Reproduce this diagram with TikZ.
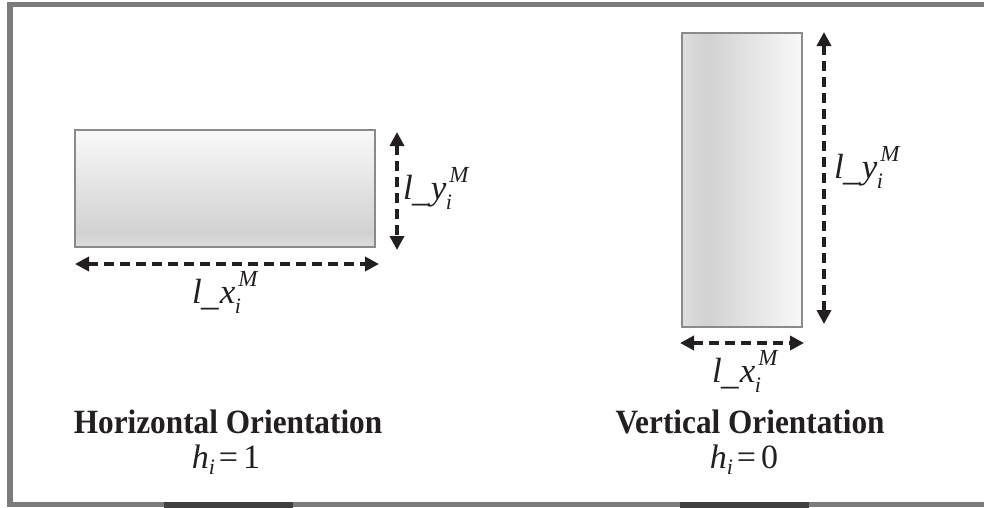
\documentclass[tikz,border=0pt]{standalone}
\usepackage{fontspec}
\setmainfont{Liberation Serif}
\usetikzlibrary{arrows.meta}
\definecolor{shA}{gray}{0.87}
\definecolor{shB}{gray}{0.82}
\definecolor{shC}{gray}{0.975}
\definecolor{framegray}{HTML}{7C7C7C}
\definecolor{bardark}{HTML}{404040}
\definecolor{boxline}{HTML}{8A8A8A}
\definecolor{inkc}{HTML}{231F20}
\pgfdeclareverticalshading{hboxshade}{100bp}{color(0bp)=(shA); color(25bp)=(shA); color(31bp)=(shB); color(75bp)=(shC); color(100bp)=(shC)}
\pgfdeclarehorizontalshading{vboxshade}{100bp}{color(0bp)=(shA); color(25bp)=(shA); color(35bp)=(shB); color(75bp)=(shC); color(100bp)=(shC)}
\newcommand{\dimlbl}[1]{\fontsize{35}{35}\selectfont\textit{l}\kern-0.02em\raisebox{-0.06em}{\_}\kern0.04em\textit{#1}\makebox[0pt][l]{\raisebox{-0.3em}{\kern-0.02em\fontsize{22}{22}\selectfont\textit{i}}}\raisebox{0.48em}{\kern0.08em\fontsize{23}{23}\selectfont\textit{M}}}
\newcommand{\hval}[1]{\fontsize{34}{34}\selectfont\textit{h}\raisebox{-0.2em}{\fontsize{22}{22}\selectfont\textit{i}}\kern0.12em=\kern0.15em#1}
\tikzset{
  dimarrow/.style={draw=inkc, line width=3.6pt, dash pattern=on 10pt off 6pt, {Triangle[length=14pt,width=14pt]}-{Triangle[length=14pt,width=14pt]}},
  objbox/.style={draw=boxline, line width=2.5pt, inner sep=0pt, outer sep=0pt},
  lbl/.style={inner sep=0pt, outer sep=0pt, text=inkc, anchor=base west},
  ttl/.style={inner sep=0pt, outer sep=0pt, text=inkc, anchor=base, font=\fontsize{34}{34}\selectfont\bfseries, xscale=0.92},
  eqn/.style={inner sep=0pt, outer sep=0pt, text=inkc, anchor=base}
}
\begin{document}
\begin{tikzpicture}[x=1pt,y=-1pt]
\useasboundingbox (0,0) rectangle (984,507);
\fill[white] (0,0) rectangle (984,507);
% frame
\begin{scope}
\clip (0,0) rectangle (984,507);
\draw[framegray, line width=5.5pt] (10,4.5) rectangle (1000,504.5);
\fill[bardark] (164,502) rectangle (293,508);
\fill[bardark] (680,502) rectangle (809,508);
\end{scope}
% horizontal box
\node[objbox, minimum width=300pt, minimum height=117pt, shading=hboxshade] (hbox) at (225,188.5) {};
% vertical box
\node[objbox, minimum width=120pt, minimum height=294pt, shading=vboxshade] (vbox) at (742,180) {};
% dimension coordinates
\coordinate (hyT) at (397,132);
\coordinate (hyB) at (397,250);
\coordinate (hxL) at (75,264);
\coordinate (hxR) at (379,264);
\coordinate (vyT) at (824,32);
\coordinate (vyB) at (824,324);
\coordinate (vxL) at (680,343);
\coordinate (vxR) at (804,343);
\draw[dimarrow] (hyT) -- (hyB);
\draw[dimarrow] (hxL) -- (hxR);
\draw[dimarrow] (vyT) -- (vyB);
\draw[dimarrow] (vxL) -- (vxR);
% labels
\node[lbl] (hylbl) at (403,199) {\dimlbl{y}};
\node[lbl] (hxlbl) at (192,303) {\dimlbl{x}};
\node[lbl] (vylbl) at (834,178) {\dimlbl{y}};
\node[lbl] (vxlbl) at (712,382) {\dimlbl{x}};
% titles
\node[ttl] (htitle) at (228,433) {Horizontal Orientation};
\node[ttl] (vtitle) at (750,433) {Vertical Orientation};
\node[eqn] (heq) at (226,468) {\hval{1}};
\node[eqn] (veq) at (744,468) {\hval{0}};
\end{tikzpicture}
\end{document}
